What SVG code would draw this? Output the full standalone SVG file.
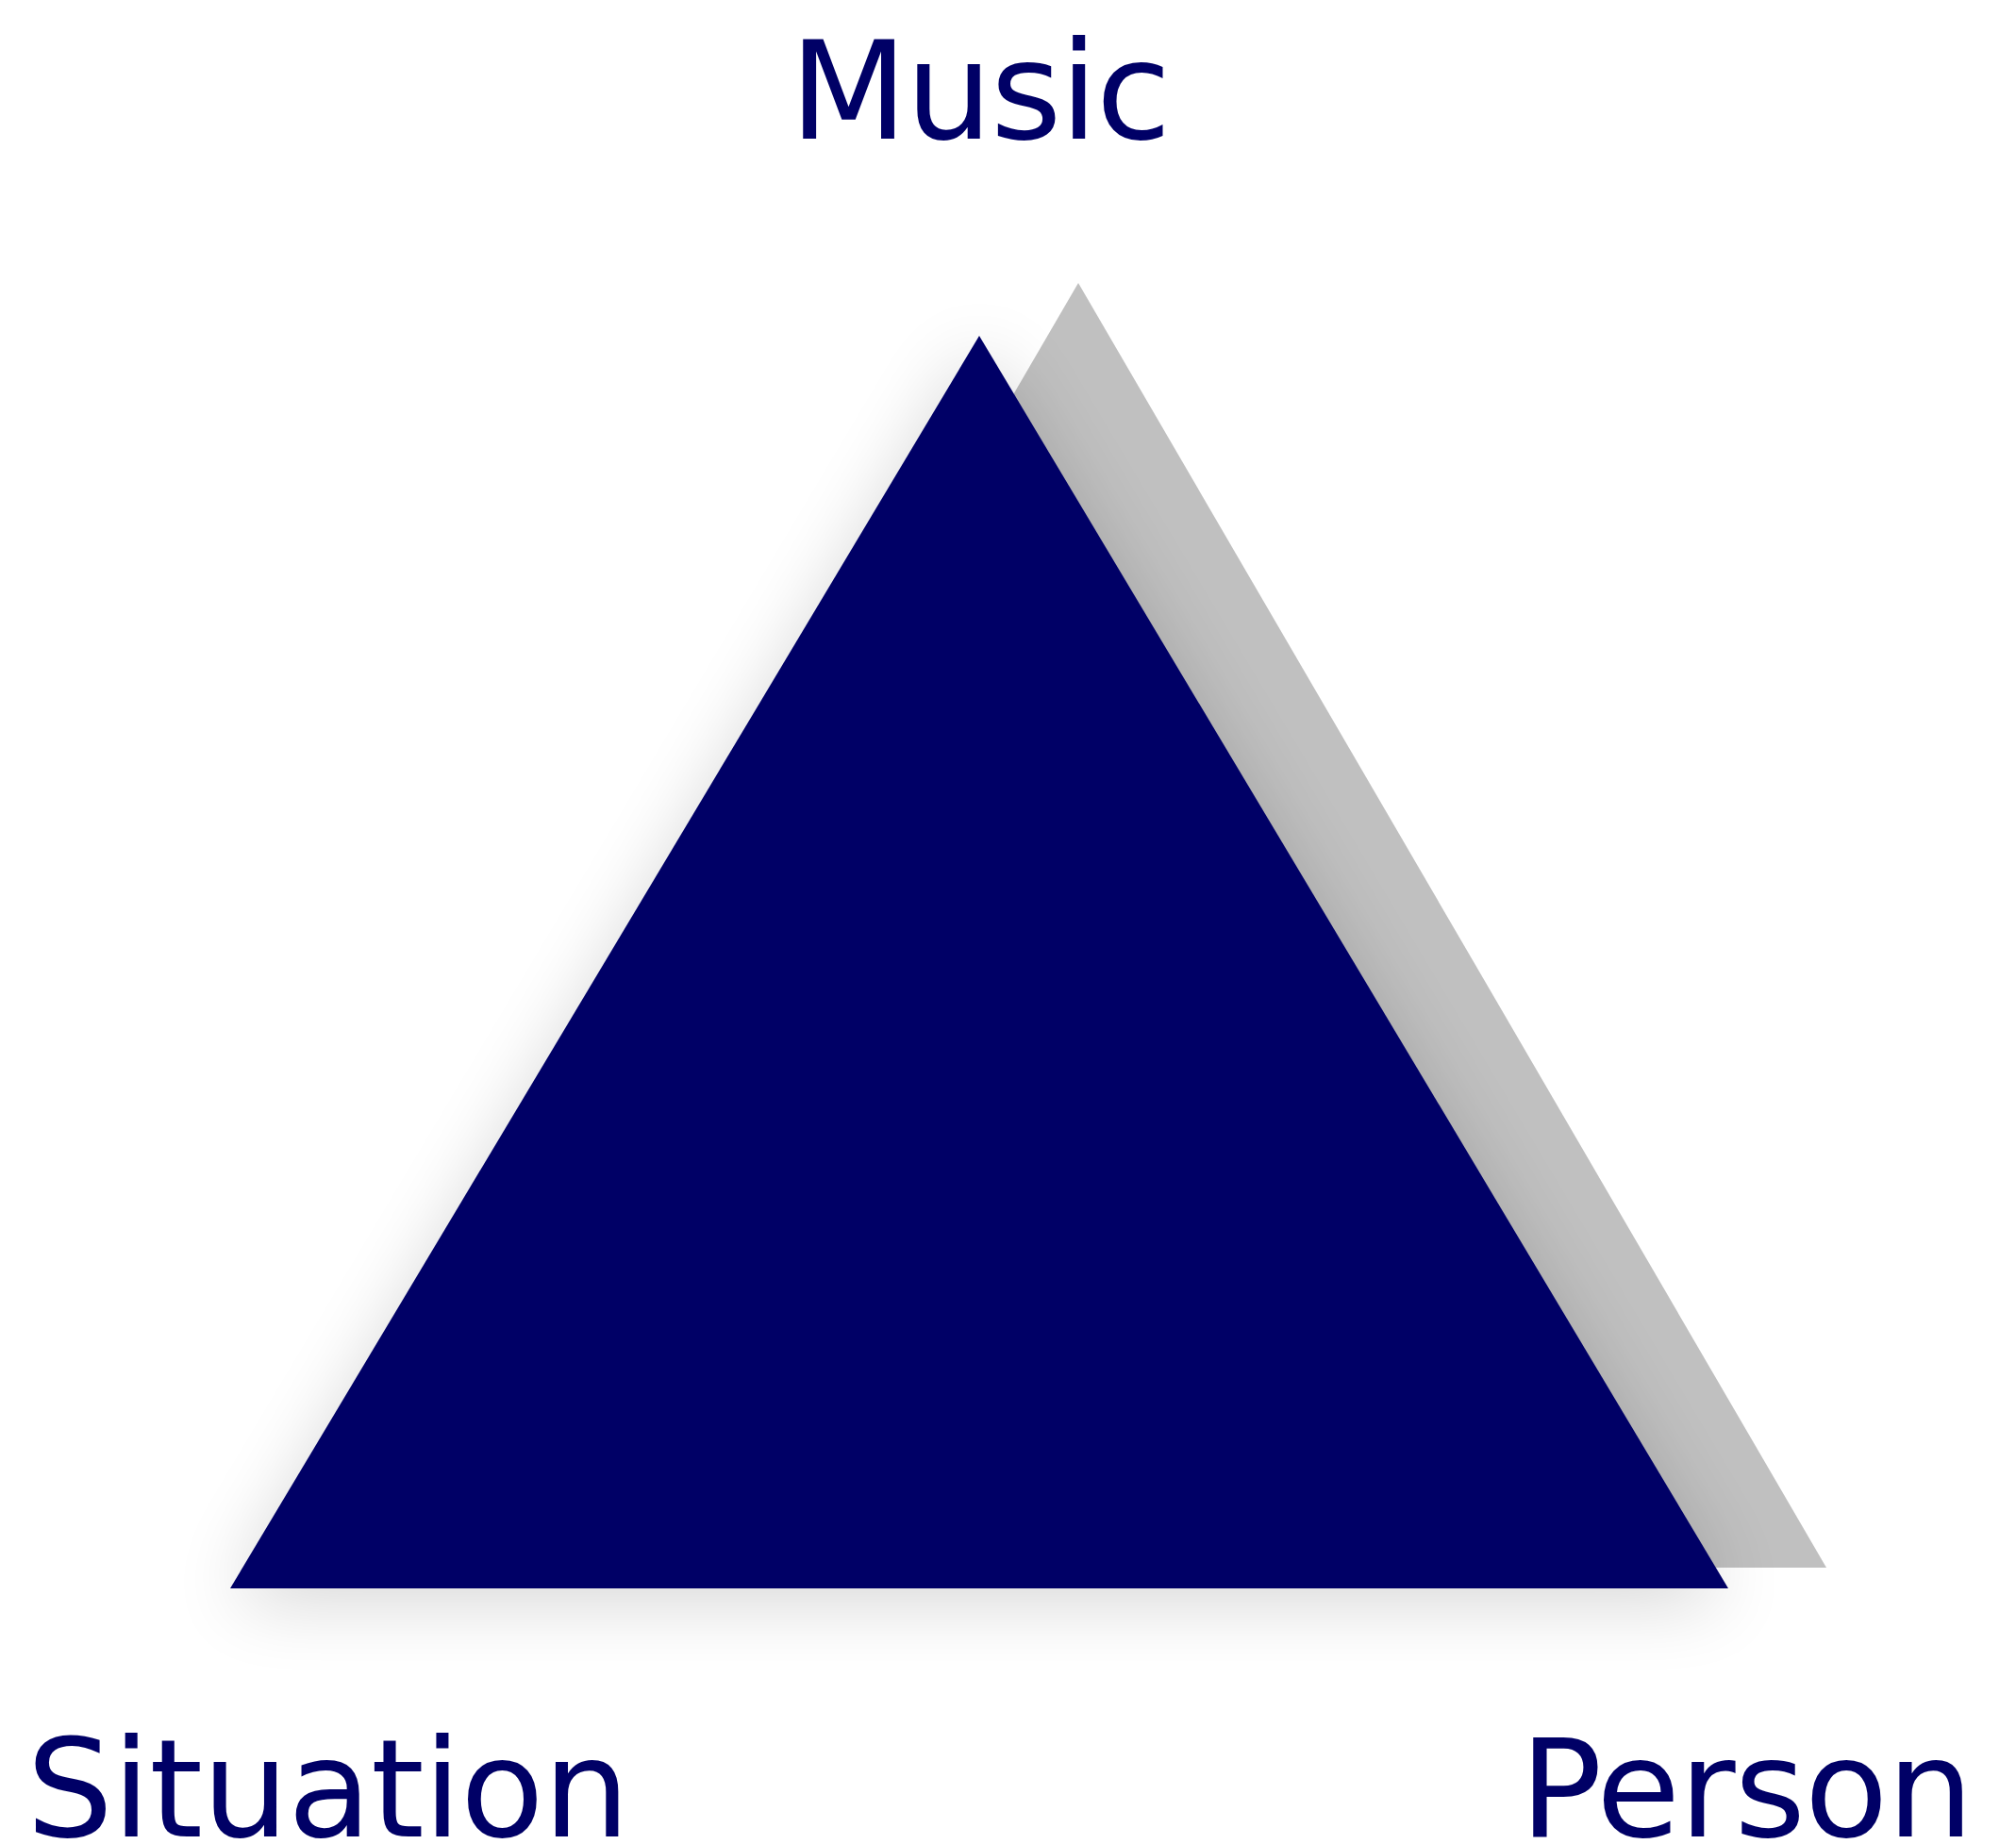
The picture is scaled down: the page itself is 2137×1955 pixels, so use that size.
<svg xmlns="http://www.w3.org/2000/svg" width="2137" height="1955" viewBox="0 0 2137 1955">
  <style>
    .lbl { font-family: "DejaVu Sans", Verdana, sans-serif; font-size: 145px; fill: #000066; }
  </style>
  <defs>
    <filter id="glow" x="-25%" y="-25%" width="150%" height="150%">
      <feGaussianBlur stdDeviation="40"/>
    </filter>
  </defs>
  <rect width="2137" height="1955" fill="#ffffff"/>
  <g id="back-triangle">
    <polygon points="1143,300 1936,1662 350,1662" fill="#c0c0c0"/>
  </g>
  <g id="main-triangle">
    <polygon points="1038,366 1832,1698 244,1698" fill="#000000" opacity="0.16" filter="url(#glow)"/>
    <polygon points="1038,356 1832,1684 244,1684" fill="#000066"/>
  </g>
  <g id="label-music">
    <text class="lbl" x="837" y="147" letter-spacing="-2">Music</text>
  </g>
  <g id="label-situation">
    <text class="lbl" x="28" y="1947" letter-spacing="-1">Situation</text>
  </g>
  <g id="label-person">
    <text class="lbl" x="1611" y="1947" letter-spacing="-1.2">Person</text>
  </g>
  <g id="connectors"/>
</svg>
